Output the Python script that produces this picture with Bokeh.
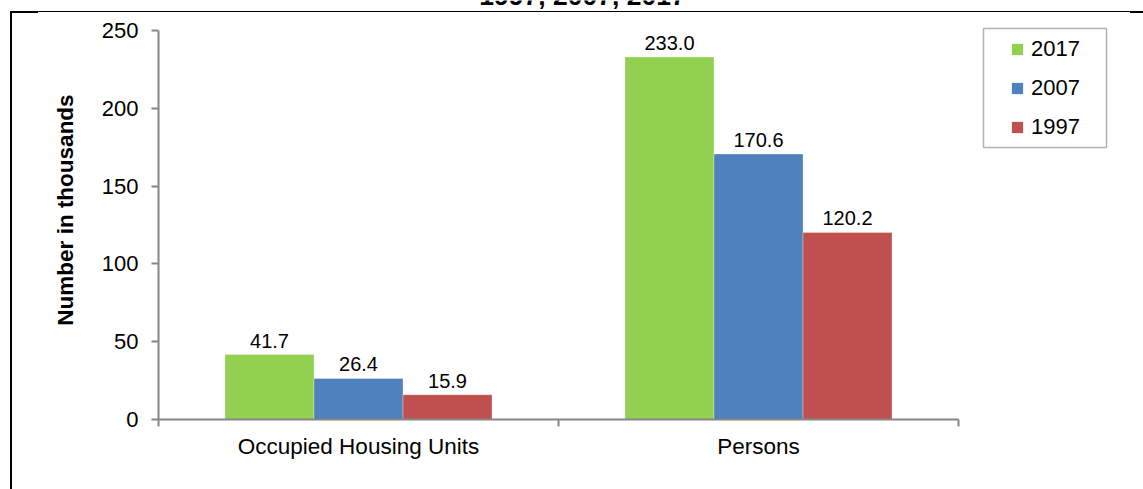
from bokeh.plotting import figure
from bokeh.models import (Range1d, LinearAxis, FixedTicker, Legend, Title,
                          LegendItem, ColumnDataSource, Label, BoxAnnotation)
from bokeh.transform import dodge
from bokeh.core.properties import value
from bokeh.embed import file_html
from bokeh.resources import INLINE

# ---- data ----
categories = ["Occupied Housing Units", "Persons"]
years = ["2017", "2007", "1997"]
values_2017 = [41.7, 233.0]
values_2007 = [26.4, 170.6]
values_1997 = [15.9, 120.2]
y_ticks = [0, 50, 100, 150, 200, 250]
title_text = "1997, 2007, 2017"
y_label = "Number in thousands"

colors = ["#92D050", "#4F81BD", "#C0504D"]
FONT = "Liberation Sans"
AXIS_GREY = "#868686"

# ---- layout (pixels) ----
PLOT_W, PLOT_H = 1143, 489
FRAME_LEFT, FRAME_BOTTOM = 158, 70
AXIS_X_PX, AXIS_Y_PX = 800, 389   # drawn length of the x and y axes

n_cat = len(categories)
centers = [i + 0.5 for i in range(n_cat)]      # category slot centres
bounds = list(range(n_cat + 1))                # category slot boundaries
x_end = n_cat * (PLOT_W - FRAME_LEFT) / AXIS_X_PX
y_end = y_ticks[-1] * (PLOT_H - FRAME_BOTTOM) / AXIS_Y_PX

# outer chart-area border (cut off on the right and bottom in the reference),
# drawn as a CSS background behind the transparent canvas
border_css = ", ".join([
    "linear-gradient(#000,#000) 10px 11px / 2px 100% no-repeat",
    "linear-gradient(#000,#000) 10px 11px / 28px 2px no-repeat",
    "linear-gradient(#000,#000) 10px 11px / 100% 1px no-repeat",
    "linear-gradient(#000,#000) 1130px 11px / 20px 2px no-repeat",
])

p = figure(width=PLOT_W, height=PLOT_H,
           x_range=Range1d(0, x_end), y_range=Range1d(0, y_end),
           output_backend="svg", toolbar_location=None,
           x_axis_location=None, y_axis_location=None,
           min_border_left=FRAME_LEFT, min_border_right=0,
           min_border_top=0, min_border_bottom=FRAME_BOTTOM,
           styles={"background": border_css, "background-color": "white"})
p.outline_line_color = None
p.xgrid.grid_line_color = None
p.ygrid.grid_line_color = None
p.background_fill_alpha = 0
p.border_fill_alpha = 0

xaxis = LinearAxis(ticker=FixedTicker(ticks=centers, minor_ticks=bounds),
                   bounds=(0, n_cat),
                   major_label_overrides={c: name for c, name in zip(centers, categories)})
xaxis.axis_line_color = AXIS_GREY
xaxis.axis_line_width = 2
xaxis.major_tick_out = 0
xaxis.major_tick_in = 0
xaxis.minor_tick_out = 7
xaxis.minor_tick_in = 0
xaxis.minor_tick_line_color = AXIS_GREY
xaxis.minor_tick_line_width = 2
xaxis.major_label_text_font = FONT
xaxis.major_label_text_font_size = "22.5px"
xaxis.major_label_text_color = "black"
xaxis.major_label_standoff = 7
p.add_layout(xaxis, "below")

yaxis = LinearAxis(ticker=FixedTicker(ticks=y_ticks, minor_ticks=[]),
                   bounds=(y_ticks[0], y_ticks[-1]))
yaxis.axis_line_color = AXIS_GREY
yaxis.axis_line_width = 2
yaxis.major_tick_out = 7
yaxis.major_tick_in = 0
yaxis.major_tick_line_color = AXIS_GREY
yaxis.major_tick_line_width = 2
yaxis.minor_tick_line_color = None
yaxis.major_label_text_font = FONT
yaxis.major_label_text_font_size = "22px"
yaxis.major_label_text_color = "black"
yaxis.major_label_standoff = 13
p.add_layout(yaxis, "left")

# y-axis title, centred on the drawn axis (0..250) rather than on the taller frame
ytitle = Title(text=y_label, align="center", vertical_align="middle",
               offset=-17, standoff=40,
               text_font=FONT, text_font_size="22.5px", text_font_style="bold",
               text_color="black")
p.add_layout(ytitle, "left")

src = ColumnDataSource(dict(
    xc=centers, cat=categories,
    v2017=values_2017, v2007=values_2007, v1997=values_1997,
    t2017=[f"{v:.1f}" for v in values_2017],
    t2007=[f"{v:.1f}" for v in values_2007],
    t1997=[f"{v:.1f}" for v in values_1997],
))

bar_w = 0.2225
offsets = [-bar_w, 0.0, bar_w]
legend_items = []
for yr, off, col in zip(years, offsets, colors):
    xpos = dodge("xc", off)
    p.vbar(x=xpos, top="v" + yr, width=bar_w, bottom=0, source=src,
           fill_color=col, line_color="white", line_width=0.6, line_alpha=0.5)
    p.text(x=xpos, y="v" + yr, text="t" + yr, source=src,
           text_align="center", text_baseline="alphabetic", y_offset=-14,
           text_font=value(FONT), text_font_size="20px", text_color="black")
    proxy = p.scatter(x=xpos, y="v" + yr, source=src, marker="square",
                      fill_color=col, line_color=None, size=11)
    proxy.visible = False
    legend_items.append(LegendItem(label=yr, renderers=[proxy]))

# legend box outline (drawn separately so the padding can be uneven)
legend_box = BoxAnnotation(left=983, right=1106, top=28, bottom=147,
                           left_units="canvas", right_units="canvas",
                           top_units="canvas", bottom_units="canvas",
                           fill_color="white", fill_alpha=1,
                           line_color="black", line_width=1.5)
p.add_layout(legend_box)

legend = Legend(items=legend_items, location=(845, 278))
legend.margin = 0
legend.padding = 0
legend.spacing = 11
legend.glyph_width = 28
legend.glyph_height = 28
legend.label_standoff = 0
legend.label_width = 60
legend.label_height = 28
legend.label_text_font = FONT
legend.label_text_font_size = "22px"
legend.label_text_color = "black"
legend.border_line_color = None
legend.background_fill_alpha = 0
legend.inactive_fill_alpha = 0
legend.click_policy = "none"
p.add_layout(legend)

# chart title: only its lower edge is visible in the reference, above the border
title = Label(x=582, y=-5, x_units="canvas", y_units="canvas", text=title_text,
              text_align="center", text_baseline="alphabetic",
              text_font=FONT, text_font_size="26.5px", text_font_style="bold",
              text_color="black")
p.add_layout(title)

open("out.html", "w").write(file_html(p, INLINE))
